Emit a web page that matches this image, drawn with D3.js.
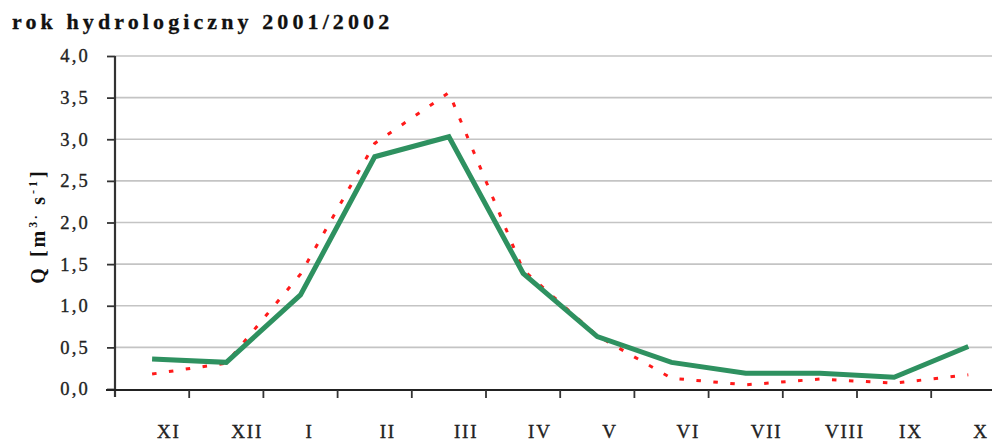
<!DOCTYPE html>
<html>
<head>
<meta charset="utf-8">
<script src="https://cdn.jsdelivr.net/npm/d3@7"></script>
<style>
  html, body { margin: 0; padding: 0; background: #fff; }
  svg { display: block; font-family: "Liberation Serif", "Times New Roman", serif; }
</style>
</head>
<body>
<svg id="chart" width="992" height="443"></svg>
<script>
// Monthly discharge, hydrological year 2001/2002
const months = ["XI", "XII", "I", "II", "III", "IV", "V", "VI", "VII", "VIII", "IX", "X"];
const measured = [0.36, 0.32, 1.13, 2.79, 3.03, 1.39, 0.63, 0.32, 0.19, 0.19, 0.14, 0.51];
const modelled = [0.18, 0.31, 1.38, 2.95, 3.56, 1.43, 0.64, 0.13, 0.05, 0.12, 0.07, 0.17];
const yTicks = [0, 0.5, 1, 1.5, 2, 2.5, 3, 3.5, 4];

const svg = d3.select("#chart");
const W = 992;

const x = d3.scaleBand().domain(months).range([115, 1005.4]).paddingInner(0).paddingOuter(0);
const y = d3.scaleLinear().domain([0, 4]).range([389, 56]);
const fmt = v => d3.format(".1f")(v).replace(".", ",");

// title
svg.append("text")
  .attr("x", 12).attr("y", 29)
  .attr("font-size", 22).attr("font-weight", "bold")
  .attr("letter-spacing", 4.1)
  .attr("fill", "#111")
  .attr("stroke", "#111").attr("stroke-width", 0.3)
  .text("rok hydrologiczny 2001/2002");

// horizontal gridlines
svg.append("g").selectAll("line")
  .data(yTicks.filter(d => d > 0))
  .join("line")
  .attr("x1", 115).attr("x2", W)
  .attr("y1", d => y(d)).attr("y2", d => y(d))
  .attr("stroke", "#c4c4c4").attr("stroke-width", 1.6);

// y axis
const yAxis = svg.append("g")
  .attr("transform", "translate(115,0)")
  .call(d3.axisLeft(y).tickValues(yTicks).tickFormat(fmt).tickSize(8).tickPadding(17));
yAxis.select(".domain").remove();
yAxis.selectAll(".tick line").attr("stroke", "#333").attr("stroke-width", 1.8);
yAxis.selectAll(".tick text")
  .attr("font-family", "Liberation Serif, serif")
  .attr("font-size", 18.5).attr("letter-spacing", 2.2)
  .attr("fill", "#222")
  .attr("stroke", "#222").attr("stroke-width", 0.35);
svg.append("line")
  .attr("x1", 115).attr("x2", 115)
  .attr("y1", y(4)).attr("y2", 397)
  .attr("stroke", "#333").attr("stroke-width", 2.2);

// x axis with ticks at month boundaries
svg.append("line")
  .attr("x1", 106).attr("x2", W)
  .attr("y1", y(0) + 1).attr("y2", y(0) + 1)
  .attr("stroke", "#222").attr("stroke-width", 2.2);
const bounds = months.map(m => x(m) + x.bandwidth());
svg.append("g").selectAll("line")
  .data(bounds)
  .join("line")
  .attr("x1", d => d).attr("x2", d => d)
  .attr("y1", y(0) + 1).attr("y2", y(0) + 9)
  .attr("stroke", "#333").attr("stroke-width", 1.8);

// month labels
svg.append("g").selectAll("text")
  .data(months)
  .join("text")
  .attr("x", d => x(d) + x.bandwidth() / 2 + 5)
  .attr("y", 438)
  .attr("font-size", 19).attr("letter-spacing", 1.8)
  .attr("fill", "#222")
  .attr("stroke", "#222").attr("stroke-width", 0.35)
  .text(d => d);

// y axis title
const yt = svg.append("text")
  .attr("transform", "translate(45,226) rotate(-90)")
  .attr("text-anchor", "middle")
  .attr("font-size", 20).attr("font-weight", "bold")
  .attr("letter-spacing", 3)
  .attr("fill", "#111");
yt.append("tspan").text("Q [m");
yt.append("tspan").attr("font-size", 12).attr("dy", -8).text("3.");
yt.append("tspan").attr("dy", 8).text(" s");
yt.append("tspan").attr("font-size", 12).attr("dy", -8).text("-1");
yt.append("tspan").attr("dy", 8).text("]");

const line = d3.line()
  .x((d, i) => x(months[i]) + x.bandwidth() / 2)
  .y(d => y(d));

// modelled series (red dotted)
svg.append("path")
  .datum(modelled)
  .attr("d", line)
  .attr("fill", "none")
  .attr("stroke", "#ff1a1a")
  .attr("stroke-width", 3)
  .attr("stroke-dasharray", "4.5 12.5");

// measured series (green solid)
svg.append("path")
  .datum(measured)
  .attr("d", line)
  .attr("fill", "none")
  .attr("stroke", "#2e9160")
  .attr("stroke-width", 5)
  .attr("stroke-linejoin", "miter");
</script>
</body>
</html>
